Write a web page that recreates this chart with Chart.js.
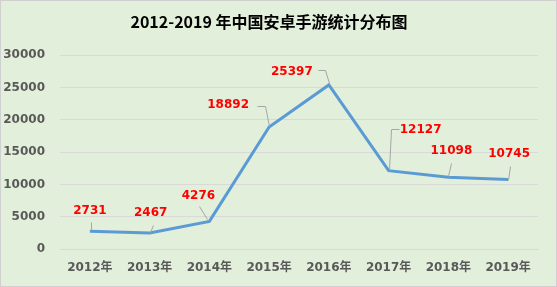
<!DOCTYPE html>
<html>
<head>
<meta charset="utf-8">
<script src="https://cdn.jsdelivr.net/npm/chart.js@4"></script>
<style>
  body { margin: 0; background: #fff; }
</style>
</head>
<body>
<canvas id="androidGames" width="557" height="287"></canvas>
<script>
const years = ['2012年', '2013年', '2014年', '2015年', '2016年', '2017年', '2018年', '2019年'];
const gameCounts = [2731, 2467, 4276, 18892, 25397, 12127, 11098, 10745];
const yTicks = [0, 5000, 10000, 15000, 20000, 25000, 30000];

// where each red label sits relative to its point, plus its grey leader line
const labelSpots = [
  { dx: 0, dy: -20, leader: [[1, -9], [1, -1]] },
  { dx: 1, dy: -20, leader: [[3, -8], [0, -1]] },
  { dx: -11, dy: -26, leader: [[-10, -15], [-2, -2]] },
  { dx: -41, dy: -22, leader: [[-12, -21], [-4, -21], [0, -1]] },
  { dx: -37, dy: -13, leader: [[-11, -15], [-4, -15], [0, -2]] },
  { dx: 32, dy: -41, leader: [[10, -42], [2, -42], [0, -1]] },
  { dx: 3, dy: -26, leader: [[3, -14], [0, -1]] },
  { dx: 1, dy: -26, leader: [[2, -14], [0, 0]] }
];

const background = {
  id: 'background',
  beforeDraw(chart) {
    const c = chart.ctx;
    c.save();
    c.fillStyle = '#e2efda';
    c.fillRect(0, 0, chart.width, chart.height);
    c.strokeStyle = '#d0d0d0';
    c.lineWidth = 1;
    c.strokeRect(0.5, 0.5, chart.width - 1, chart.height - 1);
    c.restore();
  }
};

const valueLabels = {
  id: 'valueLabels',
  afterDatasetsDraw(chart) {
    const c = chart.ctx;
    const meta = chart.getDatasetMeta(0);
    c.save();
    meta.data.forEach((pt, i) => {
      const spot = labelSpots[i];
      c.strokeStyle = '#a6a6a6';
      c.lineWidth = 1;
      c.beginPath();
      spot.leader.forEach(([lx, ly], k) => {
        const px = Math.round(pt.x + lx) + 0.5, py = Math.round(pt.y + ly) + 0.5;
        if (k === 0) c.moveTo(px, py); else c.lineTo(px, py);
      });
      c.stroke();
      c.fillStyle = '#ff0000';
      c.font = 'bold 12px "DejaVu Sans", sans-serif';
      c.textAlign = 'center';
      c.textBaseline = 'middle';
      c.fillText(String(gameCounts[i]), pt.x + spot.dx, pt.y + spot.dy);
    });
    c.restore();
  }
};

new Chart(document.getElementById('androidGames'), {
  type: 'line',
  data: {
    labels: years,
    datasets: [{
      data: gameCounts,
      borderColor: '#5b9bd5',
      borderWidth: 3,
      pointRadius: 0,
      tension: 0,
      fill: false
    }]
  },
  options: {
    responsive: false,
    animation: false,
    layout: { padding: { left: 0, right: 19, top: 0, bottom: 0 } },
    plugins: {
      legend: { display: false },
      tooltip: { enabled: false },
      title: {
        display: true,
        text: '2012-2019 年中国安卓手游统计分布图',
        color: '#000',
        font: { family: '"Noto Sans CJK SC", sans-serif', size: 16, weight: 'bold', lineHeight: 1.2 },
        padding: { top: 12, bottom: 24 }
      }
    },
    scales: {
      x: {
        offset: true,
        grid: { display: false, drawTicks: false },
        border: { display: true, color: '#d9d9d9' },
        ticks: {
          color: '#595959',
          maxRotation: 0,
          padding: 12,
          font: { family: '"DejaVu Sans", "Noto Sans CJK SC", sans-serif', size: 12, weight: 'bold' }
        },
        afterFit(scale) { scale.height = 38; }
      },
      y: {
        min: 0,
        max: 30000,
        afterBuildTicks(scale) { scale.ticks = yTicks.map(v => ({ value: v })); },
        grid: { color: '#d9d9d9', drawTicks: false },
        border: { display: false },
        ticks: {
          color: '#595959',
          padding: 15,
          font: { family: '"DejaVu Sans", sans-serif', size: 12, weight: 'bold' },
          callback: (v) => String(v)
        },
        afterFit(scale) { scale.width = 60; }
      }
    }
  },
  plugins: [background, valueLabels]
});
</script>
</body>
</html>
